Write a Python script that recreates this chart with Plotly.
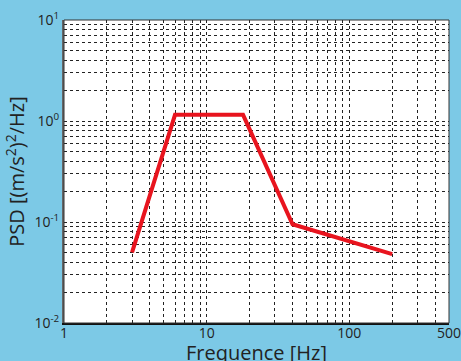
import plotly.graph_objects as go

freq = [3, 6, 18, 40, 200]
psd = [0.05, 1.15, 1.15, 0.095, 0.048]

x_ticks = [1, 10, 100, 500]
x_ticktext = ["1", "10", "100", "500"]
y_ticks = [0.01, 0.1, 1, 10]
y_ticktext = ["10<sup>-2</sup>", "10<sup>-1</sup>", "10<sup>0</sup>", "10<sup>1</sup>"]

x_minor = [m * d for d in (1, 10) for m in range(2, 10)] + [200, 300, 400]
y_minor = [m * d for d in (0.01, 0.1, 1) for m in range(2, 10)]

font = "Open Sans, Noto Sans, sans-serif"

fig = go.Figure()
fig.add_trace(go.Scatter(x=freq, y=psd, mode="lines",
                         line=dict(color="#E8141E", width=4), showlegend=False))

fig.update_xaxes(type="log", range=[0, 2.69898], tickvals=x_ticks, ticktext=x_ticktext,
                 showgrid=True, gridcolor="#222", griddash="dot", gridwidth=1,
                 minor=dict(tickvals=x_minor, showgrid=True, gridcolor="#222", griddash="dot", gridwidth=1, ticks=""),
                 showline=True, linecolor="#111", linewidth=2, mirror=False,
                 ticks="", ticklabeloverflow="allow", ticklabelstandoff=-4,
                 tickfont=dict(size=14, color="#222", family=font),
                 automargin=False, zeroline=False)
fig.update_yaxes(type="log", range=[-2, 1], tickvals=y_ticks, ticktext=y_ticktext,
                 showgrid=True, gridcolor="#222", griddash="dot", gridwidth=1,
                 minor=dict(tickvals=y_minor, showgrid=True, gridcolor="#222", griddash="dot", gridwidth=1, ticks=""),
                 showline=True, linecolor="#666", linewidth=2,
                 ticks="", ticklabeloverflow="allow",
                 tickfont=dict(size=14, color="#222", family=font),
                 title=dict(text="PSD [(m/s<sup>2</sup>)<sup>2</sup>/Hz]", font=dict(size=20, color="#222", family=font), standoff=4),
                 automargin=False, zeroline=False)

fig.add_annotation(text="Frequence [Hz]", xref="paper", yref="paper", x=0.5, y=0,
                   xanchor="center", yanchor="top", yshift=-14, showarrow=False,
                   font=dict(size=20, color="#222", family=font))

fig.add_shape(type="rect", xref="paper", yref="paper", x0=0, y0=0, x1=1, y1=1,
              line=dict(color="#333", width=1), layer="above")

fig.update_layout(width=461, height=361, margin=dict(l=64, r=12, t=20, b=38),
                  paper_bgcolor="#7CC9E6", plot_bgcolor="white")

fig.write_html("out.html", config={"displayModeBar": False},
               post_script="document.body.style.margin='0px';")
